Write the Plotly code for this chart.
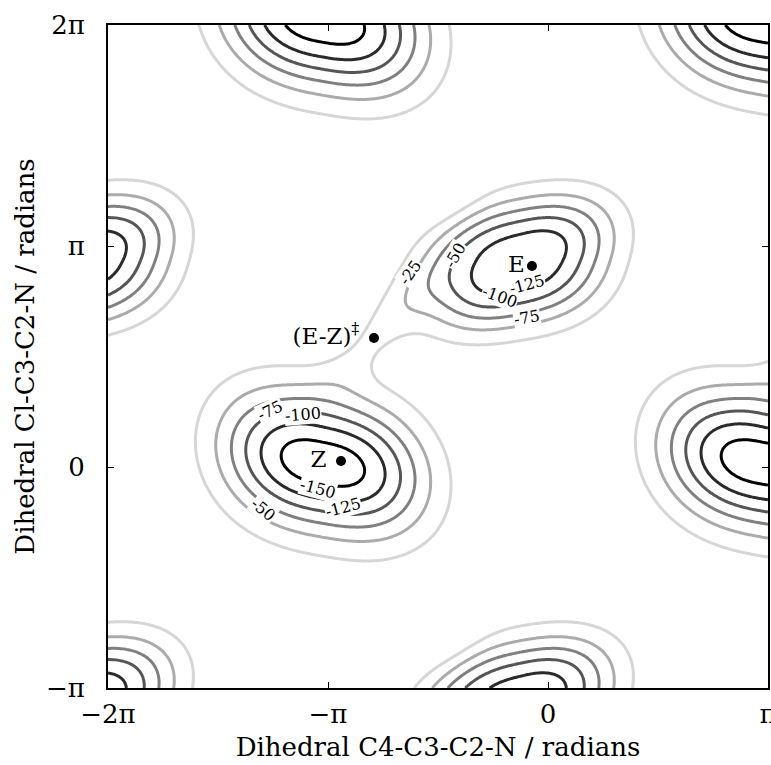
import numpy as np
import plotly.graph_objects as go

PI = np.pi

# ---- contour levels (energy, kJ/mol) ----
levels = [-150, -125, -100, -75, -50, -25]

# ---- potential wells (centres in radians) ----
well_names = ["Z", "E"]
well_x = [-3.21, -0.40]
well_y = [0.05, 2.91]
well_depth = [165.0, 145.0]
well_sx = [1.40, 1.25]
well_sy = [0.96, 0.88]
well_px = [2.6, 2.6]
well_py = [2.0, 2.4]
well_rho = [0.25, -0.30]

# ---- transition channel between the wells ----
chan_x = [-2.20]
chan_y = [2.18]
chan_depth = [28.0]
chan_angle = [48.0]
chan_long = [0.95]
chan_wide = [0.26]

# ---- small ridge above the channel ----
ridge_x = [-1.50]
ridge_y = [3.98]
ridge_height = [25.0]
ridge_sigma = [0.42]

# ---- labelled stationary points ----
point_x = [-2.956, -0.229, -2.485]
point_y = [0.085, 2.857, 1.834]
point_text = ["Z ", "E", "(E-Z)<sup>‡</sup> "]

# ---- inline contour labels (text, position, angle) ----
label_text = ["-25", "-50", "-125", "-100", "-75", "-75", "-100", "-150", "-125", "-50"]
label_x = [-1.97, -1.33, -0.30, -0.69, -0.30, -3.97, -3.50, -3.29, -2.93, -4.07]
label_y = [2.77, 3.01, 2.59, 2.43, 2.12, 0.81, 0.74, -0.30, -0.57, -0.61]
label_angle = [-55, -60, -15, 20, -10, -25, -5, 15, -15, 40]

# ---- axis ticks ----
x_tickvals = [-2 * PI, -PI, 0, PI]
x_ticktext = ["−2π", "−π", "0", "π"]
y_tickvals = [-PI, 0, PI, 2 * PI]
y_ticktext = ["−π", "0", "π", "2π"]

# ---- build the periodic surface ----
xg = np.linspace(-2 * PI, PI, 361)
yg = np.linspace(-PI, 2 * PI, 361)
X, Y = np.meshgrid(xg, yg)
V = np.zeros_like(X)
shifts = [-2, -1, 0, 1, 2]
for i in range(len(well_x)):
    for kx in shifts:
        for ky in shifts:
            u = (X - (well_x[i] + 2 * PI * kx)) / well_sx[i]
            v = (Y - (well_y[i] + 2 * PI * ky)) / well_sy[i]
            e = np.abs(u) ** well_px[i] + np.abs(v) ** well_py[i] + 2 * well_rho[i] * u * v
            V -= well_depth[i] * np.exp(-np.clip(e, 0, None))
for i in range(len(chan_x)):
    a = np.deg2rad(chan_angle[i])
    for kx in shifts:
        for ky in shifts:
            dx = X - (chan_x[i] + 2 * PI * kx)
            dy = Y - (chan_y[i] + 2 * PI * ky)
            s = dx * np.cos(a) + dy * np.sin(a)
            t = -dx * np.sin(a) + dy * np.cos(a)
            V -= chan_depth[i] * np.exp(-s ** 2 / (2 * chan_long[i] ** 2) - t ** 2 / (2 * chan_wide[i] ** 2))
for i in range(len(ridge_x)):
    for kx in shifts:
        for ky in shifts:
            dx = X - (ridge_x[i] + 2 * PI * kx)
            dy = Y - (ridge_y[i] + 2 * PI * ky)
            V += ridge_height[i] * np.exp(-(dx ** 2 + dy ** 2) / (2 * ridge_sigma[i] ** 2))

FONT = "DejaVu Serif"

fig = go.Figure()
fig.add_trace(go.Contour(
    x=xg, y=yg, z=V,
    autocontour=False,
    contours=dict(start=levels[0], end=levels[-1], size=25, coloring="lines",
                  showlabels=False),
    colorscale=[[0, "#000000"], [1, "#d6d6d6"]],
    zmin=levels[0], zmax=levels[-1],
    line=dict(width=3, smoothing=1),
    showscale=False,
    hoverinfo="skip",
))
fig.add_trace(go.Scatter(
    x=point_x, y=point_y, mode="markers+text",
    text=point_text, textposition="middle left",
    marker=dict(color="black", size=10),
    textfont=dict(family=FONT, size=23, color="black"),
    showlegend=False, cliponaxis=False, hoverinfo="skip",
))

for t, lx, ly, ang in zip(label_text, label_x, label_y, label_angle):
    fig.add_annotation(x=lx, y=ly, text=t, textangle=ang, showarrow=False,
                       font=dict(family=FONT, size=16, color="black"),
                       bgcolor="white", borderpad=0)

axis_common = dict(
    showline=True, linecolor="black", linewidth=2, mirror="ticks",
    ticks="inside", ticklen=6, tickwidth=1, tickcolor="black",
    showgrid=False, zeroline=False, automargin=False,
    ticklabeloverflow="allow",
    tickfont=dict(family=FONT, size=26, color="black"),
)
fig.update_layout(
    width=771, height=765,
    margin=dict(l=108, r=3, t=25, b=77),
    paper_bgcolor="white", plot_bgcolor="white",
    showlegend=False,
    xaxis=dict(range=[-2 * PI, PI], tickvals=x_tickvals, ticktext=x_ticktext,
               ticklabelstandoff=2,
               title=dict(text="Dihedral C4-C3-C2-N / radians",
                          font=dict(family=FONT, size=26, color="black"), standoff=10),
               **axis_common),
    yaxis=dict(range=[-PI, 2 * PI], tickvals=y_tickvals, ticktext=y_ticktext,
               ticklabelstandoff=16,
               title=dict(text="Dihedral Cl-C3-C2-N / radians",
                          font=dict(family=FONT, size=26, color="black"), standoff=4),
               **axis_common),
)
fig.write_html("out.html", config={"displayModeBar": False},
               post_script="document.body.style.margin='0';document.body.style.overflow='hidden';")
